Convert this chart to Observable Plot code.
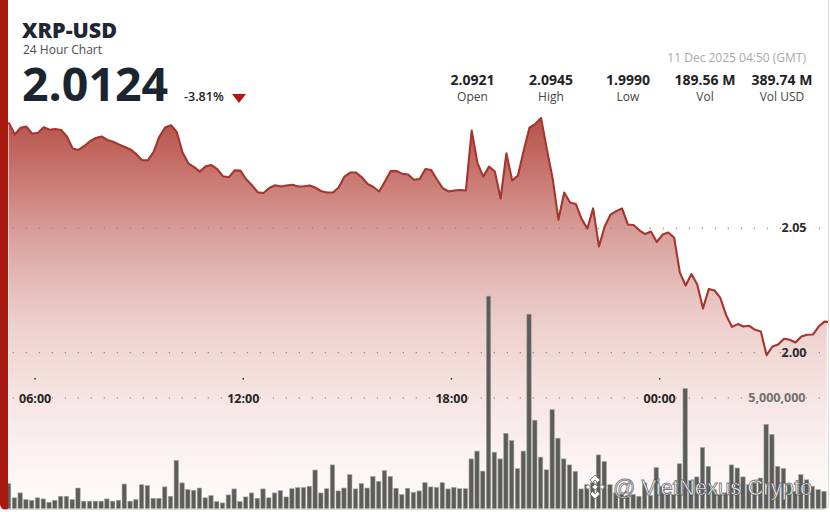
<!DOCTYPE html>
<html>
<head>
<meta charset="utf-8">
<script src="https://cdn.jsdelivr.net/npm/d3@7"></script>
<script src="https://cdn.jsdelivr.net/npm/@observablehq/plot@0.6"></script>
<style>
  html, body { margin: 0; padding: 0; background: #ffffff; }
  #card { position: relative; width: 830px; height: 512px; overflow: hidden; font-family: "Open Sans", sans-serif; }
  #card svg.layer { position: absolute; left: 0; top: 0; }
  .abs { position: absolute; line-height: 1; white-space: nowrap; }
  #frame { position: absolute; left: 0; top: 0; width: 820px; height: 509px;
           border-left: 8px solid #a8190f; border-right: 1px solid #dadada; border-bottom: 1px solid #dadada;
           border-radius: 0 0 6px 6px; pointer-events: none; }
</style>
</head>
<body>
<div id="card"></div>
<script>
// ---------------- data ----------------
const SYMBOL = "XRP-USD";
const SUBTITLE = "24 Hour Chart";
const LAST_PRICE_TEXT = "2.0124";
const CHANGE_TEXT = "-3.81%";
const TIMESTAMP_TEXT = "11 Dec 2025 04:50 (GMT)";
const STAT_VALUES = ["2.0921", "2.0945", "1.9990", "189.56 M", "389.74 M"];
const STAT_LABELS = ["Open", "High", "Low", "Vol", "Vol USD"];
const WATERMARK = "@ VietNexus Crypto";

const STEP_MIN = 10;
// price closes every 10 minutes starting 10 Dec 05:15 UTC
const PRICE_START = "2025-12-10T05:15:00Z";
const prices = [
  2.0922, 2.0877, 2.0904, 2.0909, 2.0880, 2.0884, 2.0906, 2.0896, 2.0899, 2.0895,
  2.0869, 2.0821, 2.0815, 2.0831, 2.0850, 2.0863, 2.0869, 2.0855, 2.0848, 2.0837,
  2.0827, 2.0817, 2.0798, 2.0774, 2.0773, 2.0807, 2.0869, 2.0905, 2.0914, 2.0887,
  2.0805, 2.0761, 2.0746, 2.0728, 2.0749, 2.0754, 2.0738, 2.0709, 2.0705, 2.0733,
  2.0732, 2.0697, 2.0673, 2.0645, 2.0642, 2.0662, 2.0673, 2.0668, 2.0672, 2.0675,
  2.0668, 2.0669, 2.0672, 2.0663, 2.0649, 2.0644, 2.0644, 2.0664, 2.0708, 2.0724,
  2.0724, 2.0705, 2.0678, 2.0666, 2.0648, 2.0688, 2.0730, 2.0731, 2.0719, 2.0716,
  2.0695, 2.0698, 2.0738, 2.0734, 2.0696, 2.0661, 2.0648, 2.0652, 2.0654, 2.0652,
  2.0893, 2.0762, 2.0708, 2.0748, 2.0728, 2.0620, 2.0801, 2.0692, 2.0712, 2.0813,
  2.0905, 2.0919, 2.0943, 2.0817, 2.0700, 2.0535, 2.0644, 2.0604, 2.0598, 2.0538,
  2.0499, 2.0580, 2.0427, 2.0507, 2.0555, 2.0569, 2.0580, 2.0515, 2.0513, 2.0492,
  2.0477, 2.0487, 2.0445, 2.0475, 2.0483, 2.0463, 2.0322, 2.0270, 2.0316, 2.0274,
  2.0178, 2.0256, 2.0250, 2.0220, 2.0151, 2.0104, 2.0115, 2.0105, 2.0108, 2.0092,
  2.0085, 1.9990, 2.0025, 2.0033, 2.0056, 2.0052, 2.0041, 2.0065, 2.0072, 2.0073,
  2.0105, 2.0125
];
const LAST_TIME = "2025-12-11T04:50:00Z";
const LAST_PRICE = 2.0124;

// 10-minute volume bars (millions) starting 10 Dec 05:10 UTC
const VOLUME_START = "2025-12-10T05:10:00Z";
const volumesM = [
  1.12, 0.48, 0.70, 0.40, 0.37, 0.48, 0.43, 0.28, 0.37, 0.55, 0.55, 0.40, 0.92, 0.33, 0.33, 0.33,
  0.33, 0.43, 0.33, 0.37, 1.10, 0.33, 0.40, 1.07, 1.03, 0.46, 0.46, 0.97, 0.55, 2.16, 1.15, 0.85,
  0.82, 0.92, 0.48, 0.58, 0.31, 0.25, 0.61, 0.88, 0.31, 0.52, 0.70, 0.46, 0.88, 0.48,
  0.70, 0.80, 0.52, 0.89, 0.94, 0.94, 1.00, 1.73, 0.70, 0.89, 1.96, 0.79, 0.92, 1.52, 0.88, 1.12,
  0.92, 1.44, 1.22, 1.70, 1.44, 0.91, 0.63, 0.91, 0.73, 0.79, 1.16, 0.97, 0.95, 1.16, 0.88, 0.95,
  0.89, 0.89, 2.23, 2.58, 1.68, 9.55, 2.53, 2.23, 3.38, 3.05, 1.79, 2.58, 8.74, 3.97, 2.31, 1.74, 4.45,
  3.16, 2.23, 1.96, 1.67, 0.88, 1.07, 1.16, 2.41, 2.11, 1.07, 0.70, 0.63, 0.58, 0.63, 0.55, 1.15,
  0.58, 1.84, 1.00, 0.70, 0.63, 2.01, 5.39, 1.26, 1.42, 2.74, 1.89, 0.85, 0.63, 0.70, 1.96, 1.82,
  1.42, 1.07, 1.15, 1.37, 3.78, 3.33, 1.89, 1.80, 1.07, 0.77, 1.52, 1.29, 1.00, 0.85, 0.77
];

const TIME_TICKS = ["2025-12-10T06:00:00Z", "2025-12-10T12:00:00Z", "2025-12-10T18:00:00Z", "2025-12-11T00:00:00Z"];
const PRICE_TICKS = [2.00, 2.05];
const VOLUME_TICKS = [5000000];
const X_DOMAIN = ["2025-12-10T05:14:00Z", "2025-12-11T04:52:00Z"];

// ---------------- build ----------------
const W = 830, H = 512;
const STEP = STEP_MIN * 60 * 1000;
const priceData = prices.map((p, i) => ({t: new Date(+new Date(PRICE_START) + i * STEP), p}));
priceData.push({t: new Date(LAST_TIME), p: LAST_PRICE});
const volData = volumesM.map((v, i) => {
  const t0 = new Date(+new Date(VOLUME_START) + i * STEP);
  return {t0, t1: new Date(+t0 + STEP), v: v * 1e6};
});

const xOpts = {type: "utc", domain: X_DOMAIN.map(d => new Date(d)), range: [8, 828]};
const yPrice = {domain: [2.00, 2.05], range: [352.2, 227.8], axis: null};
const FLOOR_PX = 508.5;
const areaFloor = d3.scaleLinear(yPrice.domain, yPrice.range).invert(FLOOR_PX);

const gradStops = [
  [0, "#b6524a"], [0.11, "#c46d66"], [0.29, "#d89d98"], [0.42, "#e4bcb8"],
  [0.54, "#eed1ce"], [0.72, "#f6e5e4"], [0.85, "#faf1f0"], [1, "#fefcfc"]
];
const gradientDefs = () => {
  const defs = document.createElementNS("http://www.w3.org/2000/svg", "defs");
  defs.innerHTML = `<linearGradient id="areaGrad" x1="0" y1="0" x2="0" y2="1">` +
    gradStops.map(([o, c]) => `<stop offset="${o}" stop-color="${c}"/>`).join("") +
    `</linearGradient>`;
  return defs;
};

const dotted = {stroke: "#8d8d8d", strokeWidth: 1.3, strokeDasharray: "1.3,11.7", strokeDashoffset: 8.3};
const baseStyle = {fontFamily: "Open Sans", background: "transparent", overflow: "visible"};

const pricePlot = Plot.plot({
  width: W, height: H, marginLeft: 8, marginRight: 2, marginTop: 0, marginBottom: 3,
  style: baseStyle,
  x: {...xOpts, axis: null},
  y: yPrice,
  marks: [
    gradientDefs,
    Plot.areaY(priceData, {x: "t", y1: () => areaFloor, y2: "p", fill: "url(#areaGrad)"}),
    Plot.ruleY(PRICE_TICKS, dotted),
    Plot.lineY(priceData, {x: "t", y: "p", stroke: "#a5352d", strokeWidth: 2.1}),
    Plot.text(PRICE_TICKS, {y: d => d, frameAnchor: "right", dx: -22, textAnchor: "end",
      text: d => d.toFixed(2), fontSize: 12.5, fontWeight: 700, fill: "#2b2b2b"})
  ]
});
pricePlot.classList.add("layer");

const volPlot = Plot.plot({
  width: W, height: H, marginLeft: 8, marginRight: 2, marginTop: 0, marginBottom: 134,
  style: baseStyle,
  x: xOpts,
  y: {domain: [0, 5e6], range: [FLOOR_PX, 397.3], axis: null},
  marks: [
    Plot.ruleY(VOLUME_TICKS, dotted),
    Plot.rectY(volData, {x1: "t0", x2: "t1", y1: () => 0, y2: "v", insetLeft: 0.7, insetRight: 0.7,
      fill: "#5c5d59", stroke: "#a3a3a0", strokeWidth: 0.6}),
    Plot.text(VOLUME_TICKS, {y: d => d, frameAnchor: "right", dx: -23, textAnchor: "end",
      text: d => d3.format(",")(d), fontSize: 12.5, fontWeight: 700, fill: "#707070"}),
    Plot.axisX(TIME_TICKS.map(d => new Date(d)), {tickFormat: d3.utcFormat("%H:%M"), tickSize: 1.5,
      tickPadding: 14.6, fontSize: 12.5, fontWeight: 700, color: "#262626", strokeWidth: 1.5})
  ]
});
volPlot.classList.add("layer");

const card = document.getElementById("card");
card.appendChild(pricePlot);
card.appendChild(volPlot);

// ---------------- header text ----------------
function place(text, {x, baseline, size, weight = 400, color = "#222", anchor = "start", family = "Open Sans", asc = 0.888}) {
  const el = document.createElement("div");
  el.className = "abs";
  el.textContent = text;
  el.style.fontFamily = `"${family}", sans-serif`;
  el.style.fontSize = size + "px";
  el.style.fontWeight = weight;
  el.style.color = color;
  el.style.top = (baseline - asc * size) + "px";
  if (anchor === "start") el.style.left = x + "px";
  else if (anchor === "end") el.style.right = (W - x) + "px";
  else { el.style.left = x + "px"; el.style.transform = "translateX(-50%)"; }
  card.appendChild(el);
  return el;
}

place(SYMBOL, {x: 22, baseline: 38, size: 21.5, weight: 800, color: "#1e2732"});
place(SUBTITLE, {x: 23, baseline: 55, size: 12, color: "#4d4d4d"});
place(LAST_PRICE_TEXT, {x: 22, baseline: 101.7, size: 46.5, weight: 700, color: "#1b2530"});
place(CHANGE_TEXT, {x: 184, baseline: 102, size: 12.5, weight: 600, color: "#222"});
const tri = document.createElement("div");
tri.className = "abs";
Object.assign(tri.style, {left: "232px", top: "94px", width: 0, height: 0,
  borderLeft: "7px solid transparent", borderRight: "7px solid transparent", borderTop: "9px solid #b3170f"});
card.appendChild(tri);

place(TIMESTAMP_TEXT, {x: 806, baseline: 62.7, size: 12, color: "#a9a9a9", anchor: "end"});
const STAT_X = [472.5, 551, 628, 705, 782];
STAT_VALUES.forEach((v, i) => place(v, {x: STAT_X[i], baseline: 85, size: 14, weight: 700, color: "#222", anchor: "middle"}));
STAT_LABELS.forEach((v, i) => place(v, {x: STAT_X[i], baseline: 101.5, size: 12, color: "#454545", anchor: "middle"}));

// watermark
const wm = place(WATERMARK, {x: 613, baseline: 496, size: 22, color: "#ffffff", family: "Liberation Sans", asc: 0.8465});
wm.style.webkitTextStroke = "0.9px rgba(80,80,80,0.75)";
const logo = document.createElement("div");
logo.className = "abs";
logo.style.left = "582px"; logo.style.top = "474px";
logo.innerHTML = `<svg width="26" height="26" viewBox="0 0 26 26">
  <g fill="#ffffff" stroke="#7a7a7a" stroke-width="0.9">
    <path d="M13 1 L18 6 L15.5 8.5 L13 6 L10.5 8.5 L8 6 Z"/>
    <path d="M13 25 L18 20 L15.5 17.5 L13 20 L10.5 17.5 L8 20 Z"/>
    <path d="M3.5 13 L6 10.5 L8.5 13 L6 15.5 Z"/>
    <path d="M17.5 13 L20 10.5 L22.5 13 L20 15.5 Z"/>
    <path d="M13 10 L16 13 L13 16 L10 13 Z"/>
  </g></svg>`;
card.appendChild(logo);

const frame = document.createElement("div");
frame.id = "frame";
card.appendChild(frame);
</script>
</body>
</html>
